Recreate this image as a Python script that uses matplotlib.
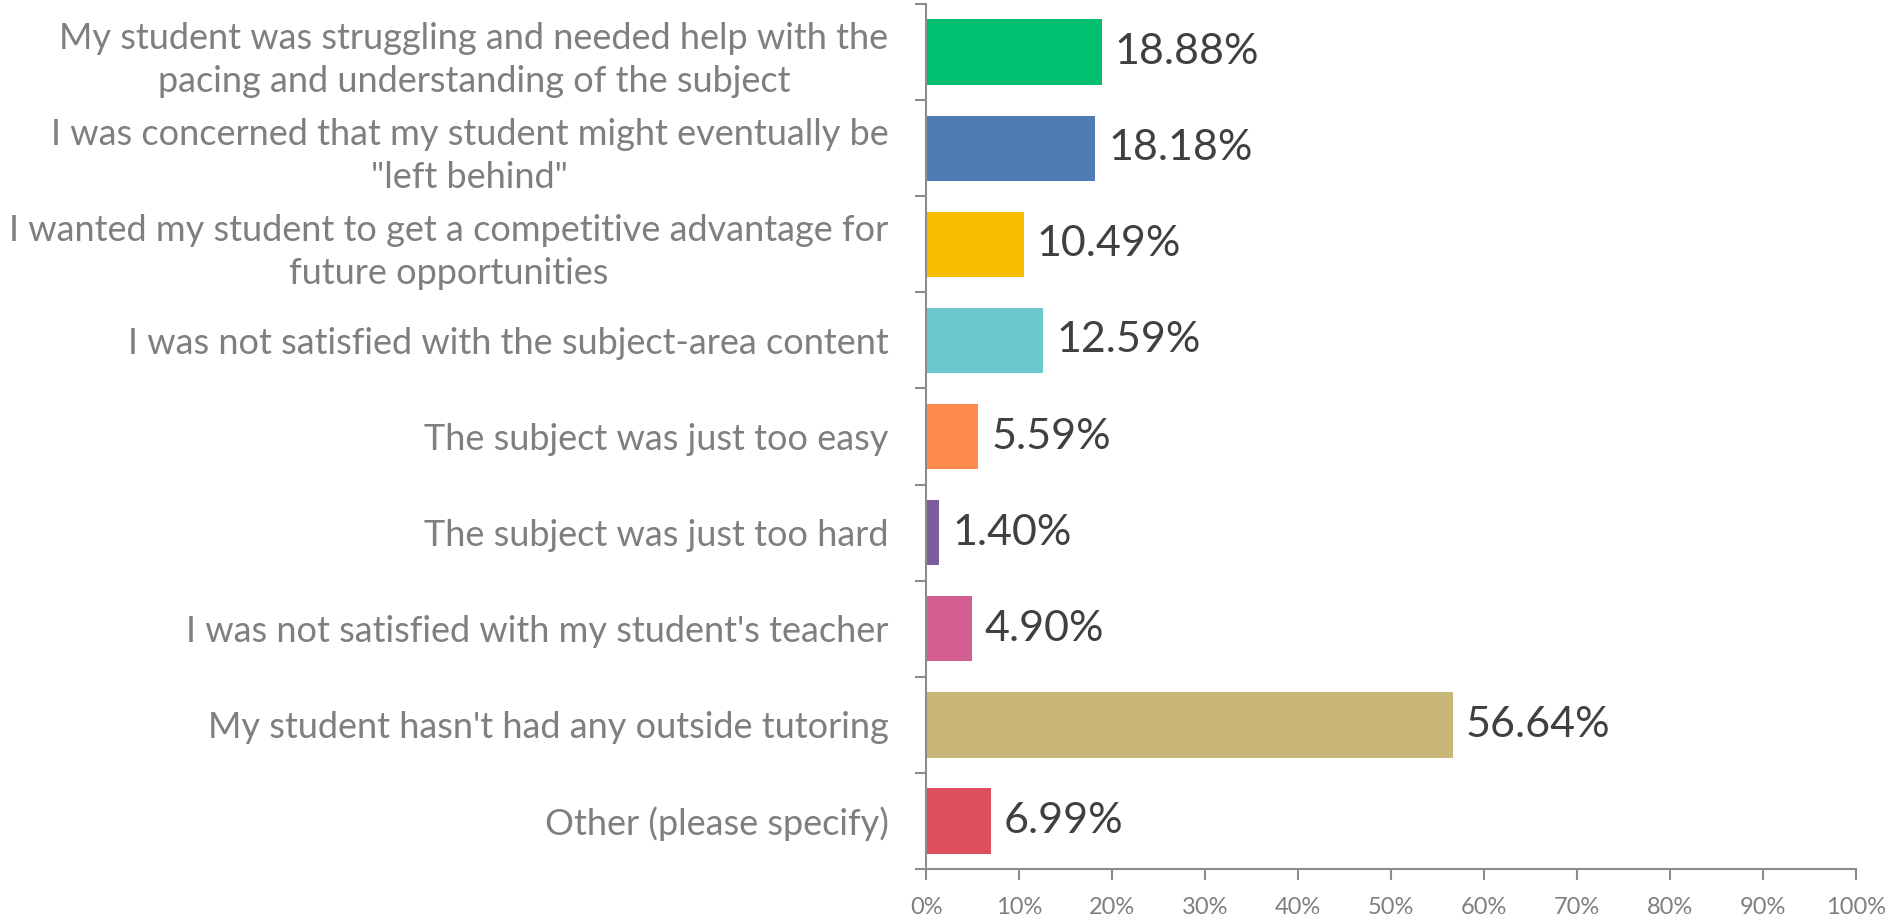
import numpy as np
import matplotlib.pyplot as plt
from matplotlib.ticker import FixedLocator, PercentFormatter

plt.rcParams['font.family'] = ['Lato', 'DejaVu Sans']

labels = ['My student was struggling and needed help with the\npacing and understanding of the subject',
          'I was concerned that my student might eventually be\n"left behind"',
          'I wanted my student to get a competitive advantage for\nfuture opportunities',
          'I was not satisfied with the subject-area content',
          'The subject was just too easy',
          'The subject was just too hard',
          "I was not satisfied with my student's teacher",
          "My student hasn't had any outside tutoring",
          'Other (please specify)']
values = [18.88, 18.18, 10.49, 12.59, 5.59, 1.40, 4.90, 56.64, 6.99]
colors = ['#00BF6F', '#507CB6', '#F9BE00', '#6BC8CD', '#FF8B4F',
          '#7D5E9A', '#D25F90', '#C9B77A', '#DE4F5D']

fig = plt.figure(figsize=(18.95, 9.19), dpi=100)
ax = fig.add_axes([0.4887, 0.0544, 0.9794 - 0.4887, 0.9956 - 0.0544])

y = np.arange(len(values))
ax.barh(y, values, height=0.68, color=colors)
for i, v in enumerate(values):
    ax.text(v + 1.4, i, '%.2f%%' % v, va='center', ha='left',
            fontsize=31, color='#404040')

ax.set_xlim(0, 100)
ax.set_ylim(len(values) - 0.5, -0.5)
ax.xaxis.set_major_locator(FixedLocator(np.arange(0, 101, 10)))
ax.xaxis.set_major_formatter(PercentFormatter(decimals=0))
ax.set_yticks(y)
ax.set_yticklabels(labels, fontsize=26, color='#7f7f7f', multialignment='center',
                   linespacing=1.35)
ax.yaxis.set_minor_locator(FixedLocator(np.arange(-0.5, len(values), 1)))
ax.tick_params(axis='y', which='major', length=0, pad=27)
ax.tick_params(axis='y', which='minor', length=8, width=1.5, color='#8c8c8c')
ax.tick_params(axis='x', length=8, width=1.5, color='#8c8c8c', labelsize=17,
               labelcolor='#7f7f7f', pad=12)

for s in ['top', 'right']:
    ax.spines[s].set_visible(False)
for s in ['left', 'bottom']:
    ax.spines[s].set_color('#8c8c8c')
    ax.spines[s].set_linewidth(1.5)

fig.savefig('out.png', dpi=100)
